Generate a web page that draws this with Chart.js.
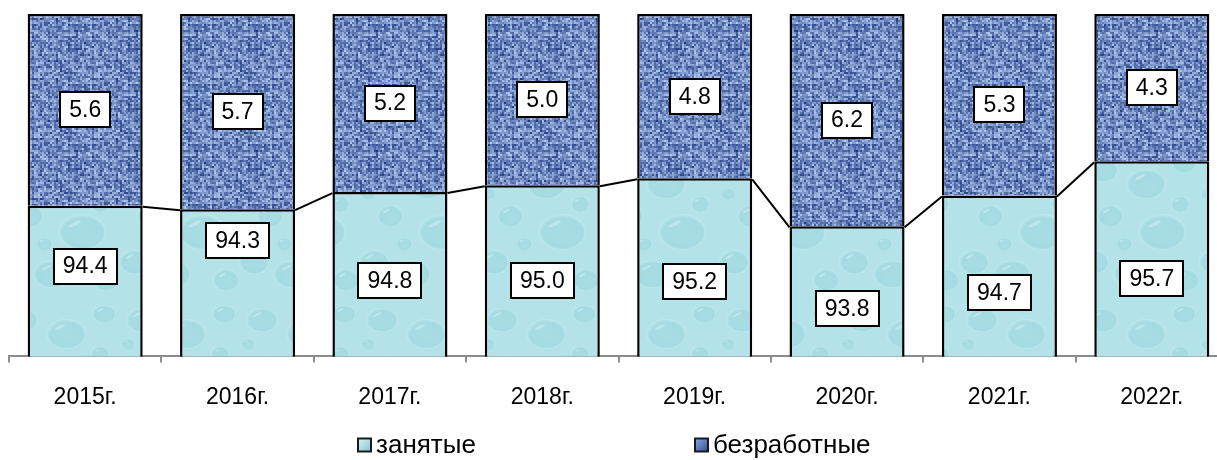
<!DOCTYPE html>
<html>
<head>
<meta charset="utf-8">
<script src="https://cdn.jsdelivr.net/npm/chart.js@4.4.0/dist/chart.umd.min.js"></script>
<style>
  html, body { margin: 0; padding: 0; background: #fff; overflow: hidden; }
  #wrap { width: 1240px; height: 460px; }
</style>
</head>
<body>
<div id="wrap"><canvas id="c" width="1240" height="460"></canvas></div>
<script>
// ---- data ----
const categories = ['2015г.', '2016г.', '2017г.', '2018г.', '2019г.', '2020г.', '2021г.', '2022г.'];
const employed   = [94.4, 94.3, 94.8, 95.0, 95.2, 93.8, 94.7, 95.7];
const unemployed = [5.6, 5.7, 5.2, 5.0, 4.8, 6.2, 5.3, 4.3];
const seriesNames = ['занятые', 'безработные'];

// ---- textures ----
function hash(x, y) {
  const s = Math.sin(x * 12.9898 + y * 78.233) * 43758.5453;
  return s - Math.floor(s);
}
function makeFabric() {
  const N = 30, P = 2;
  const c = document.createElement('canvas'); c.width = N * P; c.height = N * P;
  const g = c.getContext('2d');
  const dark = [30, 58, 128], light = [190, 214, 252];
  for (let y = 0; y < N; y++) {
    for (let x = 0; x < N; x++) {
      let t = 0.56 + (hash(x, y) - 0.5) * 0.7;
      if (x % 4 === 0 && hash(y, x) > 0.3) t -= 0.2;
      if (y % 3 === 0 && hash(x + 7, y) > 0.4) t -= 0.14;
      t = Math.max(0, Math.min(1, t));
      const col = dark.map((d, k) => Math.round(d + (light[k] - d) * t));
      g.fillStyle = `rgb(${col[0]},${col[1]},${col[2]})`;
      g.fillRect(x * P, y * P, P, P);
    }
  }
  return c;
}
function makeWater() {
  const W = 120, H = 150;
  const c = document.createElement('canvas'); c.width = W; c.height = H;
  const g = c.getContext('2d');
  g.fillStyle = '#b3e3e9';
  g.fillRect(0, 0, W, H);
  const drops = [
    [22, 20, 16, 12], [66, 34, 20, 15], [104, 14, 12, 9], [30, 66, 13, 11],
    [82, 82, 24, 18], [14, 112, 15, 12], [52, 124, 19, 14], [106, 130, 13, 11],
    [100, 54, 9, 8], [44, 94, 8, 7], [8, 44, 7, 6]
  ];
  for (const [x, y, rx, ry] of drops) {
    for (let ox = -W; ox <= W; ox += W) {
      for (let oy = -H; oy <= H; oy += H) {
        const cx = x + ox, cy = y + oy;
        if (cx + rx < 0 || cx - rx > W || cy + ry < 0 || cy - ry > H) continue;
        g.save();
        g.translate(cx, cy);
        g.scale(rx / ry, 1);
        const gr = g.createRadialGradient(ry * 0.2, ry * 0.3, ry * 0.1, 0, 0, ry);
        gr.addColorStop(0, 'rgba(130,198,210,0.22)');
        gr.addColorStop(0.8, 'rgba(120,192,205,0.25)');
        gr.addColorStop(1, 'rgba(215,245,248,0.35)');
        g.fillStyle = gr;
        g.beginPath(); g.arc(0, 0, ry, 0, Math.PI * 2); g.fill();
        g.fillStyle = 'rgba(235,252,252,0.35)';
        g.beginPath(); g.ellipse(-ry * 0.3, -ry * 0.45, ry * 0.3, ry * 0.1, -0.6, 0, Math.PI * 2); g.fill();
        g.restore();
      }
    }
  }
  return c;
}
const ctx0 = document.getElementById('c').getContext('2d');
const fabricPattern = ctx0.createPattern(makeFabric(), 'repeat');
const waterPattern = ctx0.createPattern(makeWater(), 'repeat');

// ---- plugins ----
const seriesLinesPlugin = {
  id: 'seriesLines',
  afterDatasetsDraw(chart) {
    const meta = chart.getDatasetMeta(0);
    const ctx = chart.ctx;
    ctx.save();
    ctx.strokeStyle = '#000';
    ctx.lineWidth = 2;
    for (let i = 0; i < meta.data.length - 1; i++) {
      const a = meta.data[i], b = meta.data[i + 1];
      ctx.beginPath();
      ctx.moveTo(a.x + a.width / 2, a.y + 1);
      ctx.lineTo(b.x - b.width / 2, b.y + 1);
      ctx.stroke();
    }
    ctx.restore();
  }
};

// manual vertical nudges (px) of the labels, as placed in the original
const labelNudge = [[-15, -42, 6, 10, 14, 17, 17, 20], [0, 0, 0, 0, 0, 0, 0, 0]];
const boxLabelsPlugin = {
  id: 'boxLabels',
  afterDatasetsDraw(chart) {
    const ctx = chart.ctx;
    const area = chart.chartArea;
    ctx.save();
    ctx.font = '23px "Liberation Sans", Arial, sans-serif';
    ctx.textAlign = 'center';
    ctx.textBaseline = 'middle';
    chart.data.datasets.forEach((ds, di) => {
      const meta = chart.getDatasetMeta(di);
      meta.data.forEach((el, i) => {
        const txt = Number(ds.data[i]).toFixed(1);
        const top = Math.max(Math.min(el.y, el.base), area.top);
        const bot = Math.min(Math.max(el.y, el.base), area.bottom);
        const cy = (top + bot) / 2 + labelNudge[di][i];
        const w = Math.round(ctx.measureText(txt).width + 18);
        const h = 35;
        const x0 = Math.round(el.x - w / 2), y0 = Math.round(cy - h / 2);
        ctx.fillStyle = '#fff';
        ctx.fillRect(x0, y0, w, h);
        ctx.strokeStyle = '#000';
        ctx.lineWidth = 2;
        ctx.strokeRect(x0, y0, w, h);
        ctx.fillStyle = '#000';
        ctx.fillText(txt, el.x, cy + 1);
      });
    });
    ctx.restore();
  }
};

const legendPos = { xs: [358, 695], y: 445 };
const customLegendPlugin = {
  id: 'customLegend',
  afterDraw(chart) {
    const ctx = chart.ctx;
    ctx.save();
    ctx.font = '26px "Liberation Sans", Arial, sans-serif';
    ctx.textBaseline = 'middle';
    chart.data.datasets.forEach((ds, i) => {
      const x = legendPos.xs[i], y = legendPos.y;
      const s = 13;
      const gr = ctx.createLinearGradient(x, y - s / 2, x + s, y + s / 2);
      if (i === 0) { gr.addColorStop(0, '#dcf5f8'); gr.addColorStop(1, '#7fc6d2'); }
      else { gr.addColorStop(0, '#8fa9df'); gr.addColorStop(1, '#2f4f98'); }
      ctx.fillStyle = gr;
      ctx.fillRect(x, y - s / 2, s, s);
      ctx.strokeStyle = '#1a1a1a';
      ctx.lineWidth = 2;
      ctx.strokeRect(x, y - s / 2, s, s);
      ctx.fillStyle = '#000';
      ctx.fillText(ds.label, x + s + 5, y + 1);
    });
    ctx.restore();
  }
};

new Chart(document.getElementById('c'), {
  type: 'bar',
  data: {
    labels: categories,
    datasets: [
      { label: seriesNames[0], data: employed, backgroundColor: waterPattern,
        borderColor: '#000', borderWidth: 2.5, barPercentage: 0.755, categoryPercentage: 1 },
      { label: seriesNames[1], data: unemployed, backgroundColor: fabricPattern,
        borderColor: '#000', borderWidth: 2.5, barPercentage: 0.755, categoryPercentage: 1 }
    ]
  },
  options: {
    responsive: false,
    animation: false,
    layout: { padding: { left: 9, right: 12, top: 14, bottom: 28 } },
    plugins: {
      legend: { display: false },
      tooltip: { enabled: false }
    },
    scales: {
      x: {
        stacked: true,
        grid: { offset: true, drawOnChartArea: false, drawTicks: true, tickLength: 6, color: '#8c8c8c', lineWidth: 2 },
        border: { display: true, color: '#8c8c8c', width: 2 },
        ticks: { color: '#000', font: { family: '"Liberation Sans", Arial, sans-serif', size: 23 }, padding: 21, maxRotation: 0 }
      },
      y: {
        stacked: true, display: false, min: 90, max: 100
      }
    }
  },
  plugins: [seriesLinesPlugin, boxLabelsPlugin, customLegendPlugin]
});
</script>
</body>
</html>
